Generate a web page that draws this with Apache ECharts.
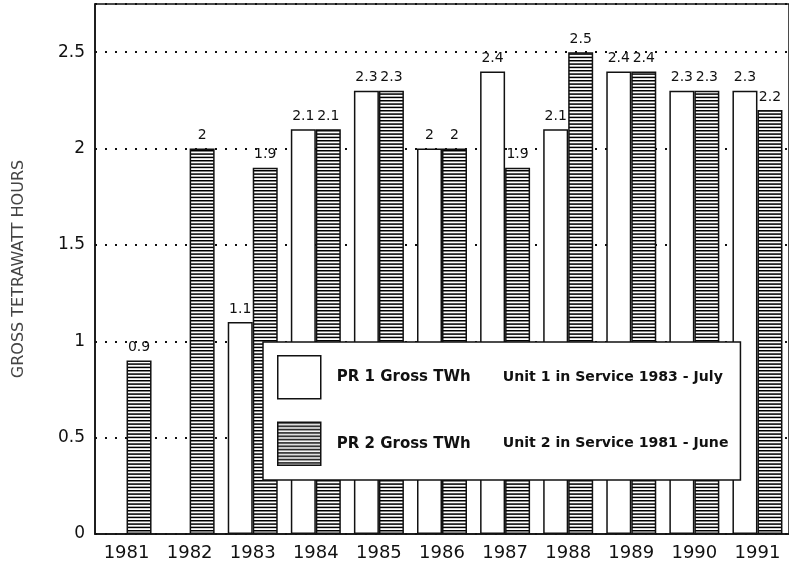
<!DOCTYPE html>
<html>
<head>
<meta charset="utf-8">
<script src="https://cdn.jsdelivr.net/npm/echarts@6/dist/echarts.min.js"></script>
<style>
  html, body { margin: 0; padding: 0; background: #fff; }
  #chart { width: 789px; height: 563px; }
</style>
</head>
<body>
<div id="chart"></div>
<script>
// data
var years = ['1981', '1982', '1983', '1984', '1985', '1986', '1987', '1988', '1989', '1990', '1991'];
var pr1 = [null, null, 1.1, 2.1, 2.3, 2, 2.4, 2.1, 2.4, 2.3, 2.3];
var pr2 = [0.9, 2, 1.9, 2.1, 2.3, 2, 1.9, 2.5, 2.4, 2.3, 2.2];
var seriesNames = ['PR 1 Gross TWh', 'PR 2 Gross TWh'];
var serviceNotes = ['Unit 1 in Service 1983 - July', 'Unit 2 in Service 1981 - June'];

// horizontal stripes for PR 2
var stripe = document.createElement('canvas');
stripe.width = 4;
stripe.height = 10;
var ctx = stripe.getContext('2d');
ctx.fillStyle = '#fff';
ctx.fillRect(0, 0, 4, 10);
ctx.fillStyle = '#000';
ctx.fillRect(0, 0, 4, 1.5);
ctx.fillRect(0, 3.33, 4, 1.5);
ctx.fillRect(0, 6.67, 4, 1.5);

var chart = echarts.init(document.getElementById('chart'));

var valueLabel = {
  show: true,
  position: 'top',
  distance: 6,
  color: '#111',
  fontFamily: 'DejaVu Sans',
  fontSize: 14
};

var option = {
  backgroundColor: '#fff',
  animation: false,
  grid: {
    left: 95,
    top: 4,
    width: 695,
    bottom: 29,
    show: true,
    borderColor: '#111',
    borderWidth: 1.5
  },
  legend: {
    orient: 'vertical',
    left: 263,
    top: 342,
    padding: [13, 12, 14, 14],
    itemWidth: 43,
    itemHeight: 43,
    itemGap: 22,
    icon: 'rect',
    backgroundColor: '#fff',
    borderColor: '#111',
    borderWidth: 1.5,
    itemStyle: { borderColor: '#111', borderWidth: 1.5 },
    data: seriesNames,
    formatter: function (name) {
      var i = seriesNames.indexOf(name);
      return '{a|' + name + '}{b|' + serviceNotes[i] + '}';
    },
    textStyle: {
      rich: {
        a: { fontFamily: 'DejaVu Sans', fontWeight: 'bold', fontSize: 15, color: '#111', width: 166, padding: [0, 0, 0, 11] },
        b: { fontFamily: 'DejaVu Sans', fontWeight: 'bold', fontSize: 14.1, color: '#111' }
      }
    }
  },
  xAxis: {
    type: 'category',
    data: years,
    axisLine: { lineStyle: { color: '#111', width: 1.5 } },
    axisTick: { show: false },
    axisLabel: {
      color: '#111',
      fontFamily: 'DejaVu Sans',
      fontSize: 18,
      margin: 10
    }
  },
  yAxis: {
    type: 'value',
    min: 0,
    max: 2.75,
    interval: 0.5,
    name: 'GROSS TETRAWATT HOURS',
    nameLocation: 'middle',
    nameGap: 68,
    nameTextStyle: {
      color: '#444',
      fontFamily: 'DejaVu Sans',
      fontSize: 16
    },
    axisLine: { show: true, lineStyle: { color: '#111', width: 1.5 } },
    axisTick: { show: false },
    axisLabel: {
      color: '#111',
      fontFamily: 'DejaVu Sans',
      fontSize: 17,
      margin: 10,
      showMaxLabel: false
    },
    splitLine: {
      lineStyle: { color: '#111', width: 2, type: [2, 8] }
    }
  },
  series: [
    {
      name: seriesNames[0],
      type: 'bar',
      data: pr1,
      barWidth: 25,
      barGap: 0,
      itemStyle: { color: '#fff', borderColor: '#111', borderWidth: 1.5 },
      label: valueLabel
    },
    {
      name: seriesNames[1],
      type: 'bar',
      data: pr2,
      barWidth: 25,
      barGap: 0,
      itemStyle: {
        color: { image: stripe, repeat: 'repeat' },
        borderColor: '#111',
        borderWidth: 1.5
      },
      label: valueLabel
    }
  ]
};

chart.setOption(option);
</script>
</body>
</html>
